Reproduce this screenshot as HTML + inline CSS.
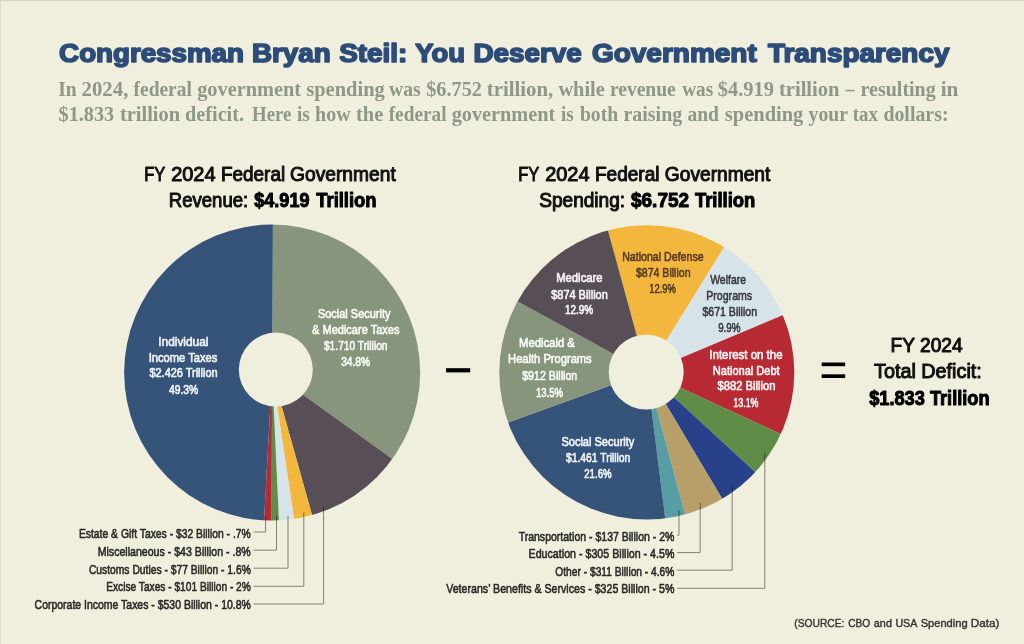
<!DOCTYPE html>
<html lang="en">
<head>
<meta charset="utf-8">
<title>Congressman Bryan Steil: You Deserve Government Transparency</title>
<style>
html,body{margin:0;padding:0;background:#f0efde;}
body{width:1024px;height:644px;overflow:hidden;font-family:"Liberation Sans",sans-serif;}
svg{display:block;filter:blur(0.4px);}
</style>
</head>
<body>
<svg width="1024" height="644" viewBox="0 0 1024 644" role="img" aria-label="FY 2024 federal revenue and spending charts">
<rect width="1024" height="644" fill="#f0efde"/>
<rect width="1024" height="1.2" fill="#d6d5c4"/><rect width="1" height="644" fill="#deddcc"/>
<text y="62.30" font-family="'Liberation Sans', sans-serif" font-size="25.1" font-weight="bold" fill="#2c4c79" stroke="#2c4c79" stroke-width="1.6" stroke-linejoin="round"><tspan x="59.13" textLength="184.81" lengthAdjust="spacingAndGlyphs">Congressman</tspan> <tspan x="251.97" textLength="78.68" lengthAdjust="spacingAndGlyphs">Bryan</tspan> <tspan x="339.26" textLength="68.15" lengthAdjust="spacingAndGlyphs">Steil:</tspan> <tspan x="415.37" textLength="49.68" lengthAdjust="spacingAndGlyphs">You</tspan> <tspan x="473.46" textLength="108.23" lengthAdjust="spacingAndGlyphs">Deserve</tspan> <tspan x="591.93" textLength="164.81" lengthAdjust="spacingAndGlyphs">Government</tspan> <tspan x="768.00" textLength="181.42" lengthAdjust="spacingAndGlyphs">Transparency</tspan></text>
<text y="96.10" font-family="'Liberation Serif', serif" font-size="20" font-weight="bold" fill="#8d9887"><tspan x="58.19" textLength="18.39" lengthAdjust="spacingAndGlyphs">In</tspan> <tspan x="81.55" textLength="46.80" lengthAdjust="spacingAndGlyphs">2024,</tspan> <tspan x="133.60" textLength="58.24" lengthAdjust="spacingAndGlyphs">federal</tspan> <tspan x="197.18" textLength="103.80" lengthAdjust="spacingAndGlyphs">government</tspan> <tspan x="306.28" textLength="78.52" lengthAdjust="spacingAndGlyphs">spending</tspan> <tspan x="389.10" textLength="31.48" lengthAdjust="spacingAndGlyphs">was</tspan> <tspan x="426.17" textLength="55.77" lengthAdjust="spacingAndGlyphs">$6.752</tspan> <tspan x="486.78" textLength="66.37" lengthAdjust="spacingAndGlyphs">trillion,</tspan> <tspan x="558.40" textLength="46.35" lengthAdjust="spacingAndGlyphs">while</tspan> <tspan x="609.89" textLength="65.94" lengthAdjust="spacingAndGlyphs">revenue</tspan> <tspan x="682.20" textLength="30.97" lengthAdjust="spacingAndGlyphs">was</tspan> <tspan x="717.76" textLength="56.28" lengthAdjust="spacingAndGlyphs">$4.919</tspan> <tspan x="778.98" textLength="60.51" lengthAdjust="spacingAndGlyphs">trillion</tspan> <tspan x="845.59" textLength="9.22" lengthAdjust="spacingAndGlyphs">–</tspan> <tspan x="860.59" textLength="75.11" lengthAdjust="spacingAndGlyphs">resulting</tspan> <tspan x="940.67" textLength="17.73" lengthAdjust="spacingAndGlyphs">in</tspan></text>
<text y="120.70" font-family="'Liberation Serif', serif" font-size="20" font-weight="bold" fill="#8d9887"><tspan x="58.57" textLength="55.56" lengthAdjust="spacingAndGlyphs">$1.833</tspan> <tspan x="119.98" textLength="60.11" lengthAdjust="spacingAndGlyphs">trillion</tspan> <tspan x="185.07" textLength="58.96" lengthAdjust="spacingAndGlyphs">deficit.</tspan> <tspan x="252.01" textLength="39.41" lengthAdjust="spacingAndGlyphs">Here</tspan> <tspan x="297.00" textLength="12.87" lengthAdjust="spacingAndGlyphs">is</tspan> <tspan x="315.09" textLength="35.58" lengthAdjust="spacingAndGlyphs">how</tspan> <tspan x="356.08" textLength="27.17" lengthAdjust="spacingAndGlyphs">the</tspan> <tspan x="388.70" textLength="57.84" lengthAdjust="spacingAndGlyphs">federal</tspan> <tspan x="451.68" textLength="103.60" lengthAdjust="spacingAndGlyphs">government</tspan> <tspan x="561.00" textLength="12.67" lengthAdjust="spacingAndGlyphs">is</tspan> <tspan x="579.90" textLength="38.28" lengthAdjust="spacingAndGlyphs">both</tspan> <tspan x="623.49" textLength="58.71" lengthAdjust="spacingAndGlyphs">raising</tspan> <tspan x="687.49" textLength="31.49" lengthAdjust="spacingAndGlyphs">and</tspan> <tspan x="724.88" textLength="78.42" lengthAdjust="spacingAndGlyphs">spending</tspan> <tspan x="808.60" textLength="39.02" lengthAdjust="spacingAndGlyphs">your</tspan> <tspan x="852.80" textLength="25.30" lengthAdjust="spacingAndGlyphs">tax</tspan> <tspan x="883.38" textLength="65.17" lengthAdjust="spacingAndGlyphs">dollars:</tspan></text>
<text y="180.80" font-family="'Liberation Sans', sans-serif" font-size="19.6" font-weight="normal" fill="#111" stroke="#111" stroke-width="1.0" stroke-linejoin="round"><tspan x="144.23" textLength="20.74" lengthAdjust="spacingAndGlyphs">FY</tspan> <tspan x="171.16" textLength="44.43" lengthAdjust="spacingAndGlyphs">2024</tspan> <tspan x="220.92" textLength="64.23" lengthAdjust="spacingAndGlyphs">Federal</tspan> <tspan x="290.10" textLength="105.63" lengthAdjust="spacingAndGlyphs">Government</tspan></text>
<text y="207.20" font-family="'Liberation Sans', sans-serif" font-size="19.6" font-weight="normal" fill="#111" stroke="#111" stroke-width="1.0" stroke-linejoin="round"><tspan x="168.75" textLength="79.43" lengthAdjust="spacingAndGlyphs">Revenue:</tspan></text>
<text y="207.20" font-family="'Liberation Sans', sans-serif" font-size="19.6" font-weight="bold" fill="#000" stroke="#000" stroke-width="1.0" stroke-linejoin="round"><tspan x="254.30" textLength="55.15" lengthAdjust="spacingAndGlyphs">$4.919</tspan> <tspan x="316.30" textLength="60.19" lengthAdjust="spacingAndGlyphs">Trillion</tspan></text>
<text y="180.80" font-family="'Liberation Sans', sans-serif" font-size="19.6" font-weight="normal" fill="#111" stroke="#111" stroke-width="1.0" stroke-linejoin="round"><tspan x="518.23" textLength="20.74" lengthAdjust="spacingAndGlyphs">FY</tspan> <tspan x="545.16" textLength="44.43" lengthAdjust="spacingAndGlyphs">2024</tspan> <tspan x="594.91" textLength="64.65" lengthAdjust="spacingAndGlyphs">Federal</tspan> <tspan x="664.80" textLength="105.53" lengthAdjust="spacingAndGlyphs">Government</tspan></text>
<text y="207.20" font-family="'Liberation Sans', sans-serif" font-size="19.6" font-weight="normal" fill="#111" stroke="#111" stroke-width="1.0" stroke-linejoin="round"><tspan x="539.20" textLength="85.92" lengthAdjust="spacingAndGlyphs">Spending:</tspan></text>
<text y="207.20" font-family="'Liberation Sans', sans-serif" font-size="19.6" font-weight="bold" fill="#000" stroke="#000" stroke-width="1.0" stroke-linejoin="round"><tspan x="631.00" textLength="58.07" lengthAdjust="spacingAndGlyphs">$6.752</tspan> <tspan x="694.90" textLength="60.39" lengthAdjust="spacingAndGlyphs">Trillion</tspan></text>
<clipPath id="pie1"><ellipse cx="272.15" cy="372.6" rx="148" ry="148"/></clipPath>
<g clip-path="url(#pie1)">
<path d="M272.15 372.60L273.30 152.60L383.15 182.65L463.25 263.60L492.15 373.75L462.10 483.60L450.81 500.98Z" fill="#87957d"/>
<path d="M272.15 372.60L450.81 500.98L362.68 573.11L331.53 584.43Z" fill="#574f55"/>
<path d="M272.15 372.60L331.53 584.43L304.78 590.17Z" fill="#f2b73c"/>
<path d="M272.15 372.60L304.78 590.17L282.17 592.37Z" fill="#d6e4ea"/>
<path d="M272.15 372.60L282.17 592.37L271.19 592.60Z" fill="#5f8c47"/>
<path d="M272.15 372.60L271.19 592.60L260.14 592.27Z" fill="#b82a33"/>
<path d="M272.15 372.60L260.14 592.27L151.91 556.84L75.90 472.03L52.48 360.59L87.91 252.36L172.72 176.35L273.30 152.60Z" fill="#365379"/>
</g>
<circle cx="275.8" cy="369.6" r="37" fill="#f0efde"/>
<clipPath id="pie2"><ellipse cx="646.8" cy="372.35" rx="147.5" ry="147.15"/></clipPath>
<g clip-path="url(#pie2)">
<path d="M646.80 372.35L588.75 160.15L702.63 159.55L762.40 185.17Z" fill="#f2b73c"/>
<path d="M646.80 372.35L762.40 185.17L840.51 268.05L849.61 287.10Z" fill="#d6e4ea"/>
<path d="M646.80 372.35L849.61 287.10L865.07 399.92L846.67 464.28Z" fill="#b82a33"/>
<path d="M646.80 372.35L846.67 464.28L808.74 521.26Z" fill="#5f8c47"/>
<path d="M646.80 372.35L808.74 521.26L759.45 561.32Z" fill="#29418a"/>
<path d="M646.80 372.35L759.45 561.32L704.11 584.75Z" fill="#b69f69"/>
<path d="M646.80 372.35L704.11 584.75L674.37 590.62Z" fill="#579da3"/>
<path d="M646.80 372.35L674.37 590.62L561.55 575.16L471.56 505.36L439.94 447.23Z" fill="#365379"/>
<path d="M646.80 372.35L439.94 447.23L430.21 333.77L454.01 266.36Z" fill="#87957d"/>
<path d="M646.80 372.35L454.01 266.36L532.83 184.17L588.75 160.15Z" fill="#574f55"/>
</g>
<circle cx="646.2" cy="372.1" r="37.5" fill="#f0efde"/>
<text x="158.22" y="345.75" textLength="50.21" lengthAdjust="spacingAndGlyphs" font-family="'Liberation Sans', sans-serif" font-size="13.2" font-weight="normal" fill="#eef2fa" stroke="#eef2fa" stroke-width="0.7" stroke-linejoin="round">Individual</text>
<text x="148.78" y="361.75" textLength="68.51" lengthAdjust="spacingAndGlyphs" font-family="'Liberation Sans', sans-serif" font-size="13.2" font-weight="normal" fill="#eef2fa" stroke="#eef2fa" stroke-width="0.7" stroke-linejoin="round">Income Taxes</text>
<text x="149.45" y="377.45" textLength="68.11" lengthAdjust="spacingAndGlyphs" font-family="'Liberation Sans', sans-serif" font-size="13.2" font-weight="normal" fill="#eef2fa" stroke="#eef2fa" stroke-width="0.7" stroke-linejoin="round">$2.426 Trillion</text>
<text x="168.89" y="393.55" textLength="29.37" lengthAdjust="spacingAndGlyphs" font-family="'Liberation Sans', sans-serif" font-size="13.2" font-weight="normal" fill="#eef2fa" stroke="#eef2fa" stroke-width="0.7" stroke-linejoin="round">49.3%</text>
<text x="317.91" y="318.05" textLength="72.54" lengthAdjust="spacingAndGlyphs" font-family="'Liberation Sans', sans-serif" font-size="13.2" font-weight="normal" fill="#f8f9f4" stroke="#f8f9f4" stroke-width="0.7" stroke-linejoin="round">Social Security</text>
<text x="312.11" y="333.95" textLength="87.29" lengthAdjust="spacingAndGlyphs" font-family="'Liberation Sans', sans-serif" font-size="13.2" font-weight="normal" fill="#f8f9f4" stroke="#f8f9f4" stroke-width="0.7" stroke-linejoin="round">&amp; Medicare Taxes</text>
<text x="323.95" y="350.25" textLength="63.57" lengthAdjust="spacingAndGlyphs" font-family="'Liberation Sans', sans-serif" font-size="13.2" font-weight="normal" fill="#f8f9f4" stroke="#f8f9f4" stroke-width="0.7" stroke-linejoin="round">$1.710 Trillion</text>
<text x="341.13" y="366.05" textLength="29.02" lengthAdjust="spacingAndGlyphs" font-family="'Liberation Sans', sans-serif" font-size="13.2" font-weight="normal" fill="#f8f9f4" stroke="#f8f9f4" stroke-width="0.7" stroke-linejoin="round">34.8%</text>
<text x="556.17" y="282.15" textLength="46.44" lengthAdjust="spacingAndGlyphs" font-family="'Liberation Sans', sans-serif" font-size="13.2" font-weight="normal" fill="#f6f3f6" stroke="#f6f3f6" stroke-width="0.7" stroke-linejoin="round">Medicare</text>
<text x="551.25" y="298.55" textLength="56.51" lengthAdjust="spacingAndGlyphs" font-family="'Liberation Sans', sans-serif" font-size="13.2" font-weight="normal" fill="#f6f3f6" stroke="#f6f3f6" stroke-width="0.7" stroke-linejoin="round">$874 Billion</text>
<text x="564.93" y="313.95" textLength="28.22" lengthAdjust="spacingAndGlyphs" font-family="'Liberation Sans', sans-serif" font-size="13.2" font-weight="normal" fill="#f6f3f6" stroke="#f6f3f6" stroke-width="0.7" stroke-linejoin="round">12.9%</text>
<text x="622.17" y="260.80" textLength="81.46" lengthAdjust="spacingAndGlyphs" font-family="'Liberation Sans', sans-serif" font-size="13.2" font-weight="normal" fill="#55381c" stroke="#55381c" stroke-width="0.6" stroke-linejoin="round">National Defense</text>
<text x="635.90" y="277.00" textLength="54.69" lengthAdjust="spacingAndGlyphs" font-family="'Liberation Sans', sans-serif" font-size="13.2" font-weight="normal" fill="#55381c" stroke="#55381c" stroke-width="0.6" stroke-linejoin="round">$874 Billion</text>
<text x="649.31" y="292.50" textLength="26.67" lengthAdjust="spacingAndGlyphs" font-family="'Liberation Sans', sans-serif" font-size="13.2" font-weight="normal" fill="#55381c" stroke="#55381c" stroke-width="0.6" stroke-linejoin="round">12.9%</text>
<text x="710.20" y="284.20" textLength="35.82" lengthAdjust="spacingAndGlyphs" font-family="'Liberation Sans', sans-serif" font-size="13.2" font-weight="normal" fill="#343a44" stroke="#343a44" stroke-width="0.6" stroke-linejoin="round">Welfare</text>
<text x="706.27" y="300.10" textLength="45.86" lengthAdjust="spacingAndGlyphs" font-family="'Liberation Sans', sans-serif" font-size="13.2" font-weight="normal" fill="#343a44" stroke="#343a44" stroke-width="0.6" stroke-linejoin="round">Programs</text>
<text x="702.40" y="316.30" textLength="54.69" lengthAdjust="spacingAndGlyphs" font-family="'Liberation Sans', sans-serif" font-size="13.2" font-weight="normal" fill="#343a44" stroke="#343a44" stroke-width="0.6" stroke-linejoin="round">$671 Billion</text>
<text x="718.14" y="331.80" textLength="22.35" lengthAdjust="spacingAndGlyphs" font-family="'Liberation Sans', sans-serif" font-size="13.2" font-weight="normal" fill="#343a44" stroke="#343a44" stroke-width="0.6" stroke-linejoin="round">9.9%</text>
<text x="709.36" y="359.05" textLength="73.16" lengthAdjust="spacingAndGlyphs" font-family="'Liberation Sans', sans-serif" font-size="13.2" font-weight="normal" fill="#fdf0f0" stroke="#fdf0f0" stroke-width="0.7" stroke-linejoin="round">Interest on the</text>
<text x="712.79" y="375.05" textLength="66.82" lengthAdjust="spacingAndGlyphs" font-family="'Liberation Sans', sans-serif" font-size="13.2" font-weight="normal" fill="#fdf0f0" stroke="#fdf0f0" stroke-width="0.7" stroke-linejoin="round">National Debt</text>
<text x="717.55" y="390.45" textLength="57.83" lengthAdjust="spacingAndGlyphs" font-family="'Liberation Sans', sans-serif" font-size="13.2" font-weight="normal" fill="#fdf0f0" stroke="#fdf0f0" stroke-width="0.7" stroke-linejoin="round">$882 Billion</text>
<text x="733.29" y="407.25" textLength="25.22" lengthAdjust="spacingAndGlyphs" font-family="'Liberation Sans', sans-serif" font-size="13.2" font-weight="normal" fill="#fdf0f0" stroke="#fdf0f0" stroke-width="0.7" stroke-linejoin="round">13.1%</text>
<text x="518.97" y="347.15" textLength="55.90" lengthAdjust="spacingAndGlyphs" font-family="'Liberation Sans', sans-serif" font-size="13.2" font-weight="normal" fill="#f8f9f4" stroke="#f8f9f4" stroke-width="0.7" stroke-linejoin="round">Medicaid &amp;</text>
<text x="508.08" y="363.35" textLength="83.62" lengthAdjust="spacingAndGlyphs" font-family="'Liberation Sans', sans-serif" font-size="13.2" font-weight="normal" fill="#f8f9f4" stroke="#f8f9f4" stroke-width="0.7" stroke-linejoin="round">Health Programs</text>
<text x="522.15" y="379.85" textLength="55.10" lengthAdjust="spacingAndGlyphs" font-family="'Liberation Sans', sans-serif" font-size="13.2" font-weight="normal" fill="#f8f9f4" stroke="#f8f9f4" stroke-width="0.7" stroke-linejoin="round">$912 Billion</text>
<text x="536.06" y="396.75" textLength="26.87" lengthAdjust="spacingAndGlyphs" font-family="'Liberation Sans', sans-serif" font-size="13.2" font-weight="normal" fill="#f8f9f4" stroke="#f8f9f4" stroke-width="0.7" stroke-linejoin="round">13.5%</text>
<text x="561.41" y="446.25" textLength="72.94" lengthAdjust="spacingAndGlyphs" font-family="'Liberation Sans', sans-serif" font-size="13.2" font-weight="normal" fill="#eef2fa" stroke="#eef2fa" stroke-width="0.7" stroke-linejoin="round">Social Security</text>
<text x="565.95" y="461.75" textLength="64.38" lengthAdjust="spacingAndGlyphs" font-family="'Liberation Sans', sans-serif" font-size="13.2" font-weight="normal" fill="#eef2fa" stroke="#eef2fa" stroke-width="0.7" stroke-linejoin="round">$1.461 Trillion</text>
<text x="584.20" y="478.25" textLength="27.44" lengthAdjust="spacingAndGlyphs" font-family="'Liberation Sans', sans-serif" font-size="13.2" font-weight="normal" fill="#eef2fa" stroke="#eef2fa" stroke-width="0.7" stroke-linejoin="round">21.6%</text>
<path d="M265.6 516V532H253.6" fill="none" stroke="#8b8b7e" stroke-width="1" style="mix-blend-mode:multiply"/>
<path d="M276.5 516V550.2H253.6" fill="none" stroke="#8b8b7e" stroke-width="1" style="mix-blend-mode:multiply"/>
<path d="M288 516V568.2H253.6" fill="none" stroke="#8b8b7e" stroke-width="1" style="mix-blend-mode:multiply"/>
<path d="M303.8 512.5V586.3H253.6" fill="none" stroke="#8b8b7e" stroke-width="1" style="mix-blend-mode:multiply"/>
<path d="M323.6 507V604H253.6" fill="none" stroke="#8b8b7e" stroke-width="1" style="mix-blend-mode:multiply"/>
<path d="M679.0 510.2V535.2H677.2" fill="none" stroke="#8b8b7e" stroke-width="1" style="mix-blend-mode:multiply"/>
<path d="M700.2 502.6V552.6H677.2" fill="none" stroke="#8b8b7e" stroke-width="1" style="mix-blend-mode:multiply"/>
<path d="M732.2 484.8V570.2H677.2" fill="none" stroke="#8b8b7e" stroke-width="1" style="mix-blend-mode:multiply"/>
<path d="M764.8 452.5V588.3H677.2" fill="none" stroke="#8b8b7e" stroke-width="1" style="mix-blend-mode:multiply"/>
<text x="78.89" y="538.40" textLength="171.92" lengthAdjust="spacingAndGlyphs" font-family="'Liberation Sans', sans-serif" font-size="13.5" font-weight="normal" fill="#282826" stroke="#282826" stroke-width="0.6" stroke-linejoin="round">Estate &amp; Gift Taxes - $32 Billion - .7%</text>
<text x="97.67" y="555.90" textLength="153.14" lengthAdjust="spacingAndGlyphs" font-family="'Liberation Sans', sans-serif" font-size="13.5" font-weight="normal" fill="#282826" stroke="#282826" stroke-width="0.6" stroke-linejoin="round">Miscellaneous - $43 Billion - .8%</text>
<text x="88.92" y="573.50" textLength="161.89" lengthAdjust="spacingAndGlyphs" font-family="'Liberation Sans', sans-serif" font-size="13.5" font-weight="normal" fill="#282826" stroke="#282826" stroke-width="0.6" stroke-linejoin="round">Customs Duties - $77 Billion - 1.6%</text>
<text x="106.21" y="591.10" textLength="144.60" lengthAdjust="spacingAndGlyphs" font-family="'Liberation Sans', sans-serif" font-size="13.5" font-weight="normal" fill="#282826" stroke="#282826" stroke-width="0.6" stroke-linejoin="round">Excise Taxes - $101 Billion - 2%</text>
<text x="34.61" y="608.70" textLength="216.20" lengthAdjust="spacingAndGlyphs" font-family="'Liberation Sans', sans-serif" font-size="13.5" font-weight="normal" fill="#282826" stroke="#282826" stroke-width="0.6" stroke-linejoin="round">Corporate Income Taxes - $530 Billion - 10.8%</text>
<text x="518.64" y="540.70" textLength="155.78" lengthAdjust="spacingAndGlyphs" font-family="'Liberation Sans', sans-serif" font-size="13.5" font-weight="normal" fill="#282826" stroke="#282826" stroke-width="0.6" stroke-linejoin="round">Transportation - $137 Billion - 2%</text>
<text x="528.57" y="558.30" textLength="145.85" lengthAdjust="spacingAndGlyphs" font-family="'Liberation Sans', sans-serif" font-size="13.5" font-weight="normal" fill="#282826" stroke="#282826" stroke-width="0.6" stroke-linejoin="round">Education - $305 Billion - 4.5%</text>
<text x="555.32" y="575.90" textLength="119.08" lengthAdjust="spacingAndGlyphs" font-family="'Liberation Sans', sans-serif" font-size="13.5" font-weight="normal" fill="#282826" stroke="#282826" stroke-width="0.6" stroke-linejoin="round">Other - $311 Billion - 4.6%</text>
<text x="446.20" y="593.20" textLength="228.22" lengthAdjust="spacingAndGlyphs" font-family="'Liberation Sans', sans-serif" font-size="13.5" font-weight="normal" fill="#282826" stroke="#282826" stroke-width="0.6" stroke-linejoin="round">Veterans’ Benefits &amp; Services - $325 Billion - 5%</text>
<rect x="446" y="368.2" width="24.2" height="4.2" fill="#000"/>
<rect x="821.7" y="362.5" width="23.5" height="3.7" fill="#000"/><rect x="821.7" y="374.3" width="23.5" height="3.7" fill="#000"/>
<text x="890.51" y="352.00" textLength="72.17" lengthAdjust="spacingAndGlyphs" font-family="'Liberation Sans', sans-serif" font-size="19.6" font-weight="normal" fill="#111" stroke="#111" stroke-width="1.0" stroke-linejoin="round">FY 2024</text>
<text x="873.99" y="378.30" textLength="107.80" lengthAdjust="spacingAndGlyphs" font-family="'Liberation Sans', sans-serif" font-size="19.6" font-weight="normal" fill="#111" stroke="#111" stroke-width="1.0" stroke-linejoin="round">Total Deficit:</text>
<text x="869.20" y="405.00" textLength="120.38" lengthAdjust="spacingAndGlyphs" font-family="'Liberation Sans', sans-serif" font-size="19.6" font-weight="bold" fill="#000" stroke="#000" stroke-width="1.0" stroke-linejoin="round">$1.833 Trillion</text>
<text y="626.80" font-family="'Liberation Sans', sans-serif" font-size="11.4" font-weight="normal" fill="#33332e" stroke="#33332e" stroke-width="0.4" stroke-linejoin="round"><tspan x="794.22" textLength="50.21" lengthAdjust="spacingAndGlyphs">(SOURCE:</tspan> <tspan x="848.22" textLength="22.02" lengthAdjust="spacingAndGlyphs">CBO</tspan> <tspan x="873.86" textLength="18.05" lengthAdjust="spacingAndGlyphs">and</tspan> <tspan x="895.45" textLength="21.30" lengthAdjust="spacingAndGlyphs">USA</tspan> <tspan x="920.65" textLength="46.97" lengthAdjust="spacingAndGlyphs">Spending</tspan> <tspan x="970.79" textLength="28.62" lengthAdjust="spacingAndGlyphs">Data)</tspan></text>
</svg>
</body>
</html>
